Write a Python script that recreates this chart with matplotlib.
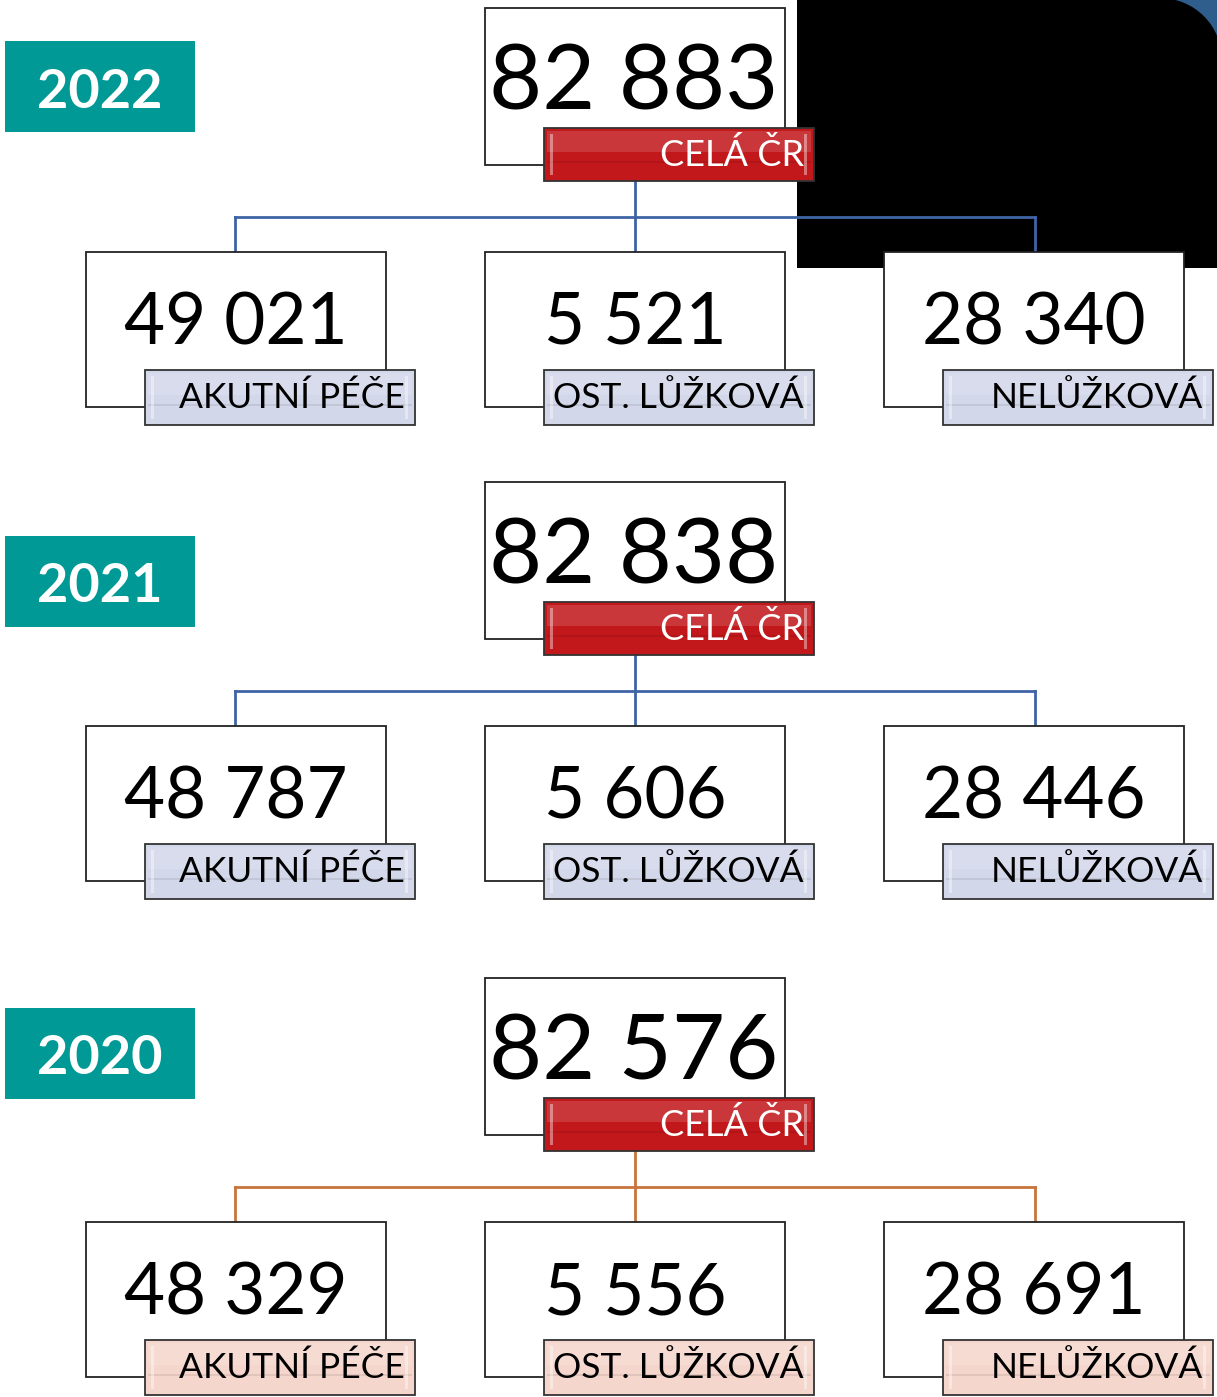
import matplotlib.pyplot as plt
from matplotlib.patches import Rectangle, Circle

# data
years = ['2022', '2021', '2020']
totals = [82883, 82838, 82576]
acute = [49021, 48787, 48329]
other_bed = [5521, 5606, 5556]
non_bed = [28340, 28446, 28691]
sub_labels = ['AKUTNÍ PÉČE', 'OST. LŮŽKOVÁ', 'NELŮŽKOVÁ']
total_label = 'CELÁ ČR'

# layout (pixel space)
sec_top = [8, 482, 978]
year_top = [41, 536, 1008]
line_col = ['#3F64A6', '#3F64A6', '#C8743A']
lab_fill = ['#D3D7EA', '#D3D7EA', '#F5D6CC']
child_x = [86, 485, 884]
box_w = 300

plt.rcParams['font.family'] = ['Lato', 'DejaVu Sans']

fig = plt.figure(figsize=(12.17, 13.97), dpi=100)
ax = fig.add_axes([0, 0, 1, 1])
ax.set_xlim(0, 1217)
ax.set_ylim(1397, 0)
ax.axis('off')


def fmt(v):
    return f'{v:,}'.replace(',', ' ')


def glossy(x, y, w, h, fill, z):
    ax.add_patch(Rectangle((x, y), w, h, facecolor=fill, edgecolor='#333333', lw=1.3, zorder=z))
    ax.add_patch(Rectangle((x + 3, y + 3), w - 6, h * 0.4, facecolor='white', alpha=0.14,
                           edgecolor='none', zorder=z + 0.1))
    ax.add_patch(Rectangle((x + 3, y + 0.62 * h), w - 6, 2, facecolor='black', alpha=0.08,
                           edgecolor='none', zorder=z + 0.1))
    for sx in (x + 6, x + w - 10):
        ax.add_patch(Rectangle((sx, y + 6), 3, h - 12, facecolor='white', alpha=0.4,
                               edgecolor='none', zorder=z + 0.1))


# dark block in the top right corner
ax.add_patch(Rectangle((797, 0), 420, 268, facecolor='black', edgecolor='none', zorder=0))
ax.add_patch(Rectangle((1160, 0), 57, 60, facecolor='#2F5D8C', edgecolor='none', zorder=0.1))
ax.add_patch(Circle((1160, 60), 62, facecolor='black', edgecolor='none', zorder=0.2))

children = [acute, other_bed, non_bed]

for i, yr in enumerate(years):
    t = sec_top[i]

    # year badge
    ax.add_patch(Rectangle((5, year_top[i]), 190, 91, facecolor='#009995', edgecolor='none', zorder=1))
    ax.text(100, year_top[i] + 51, yr, color='white', fontsize=39, fontweight='bold',
            ha='center', va='center', zorder=2)

    # connectors
    hy = t + 209
    ax.plot([635, 635], [t + 173, hy], color=line_col[i], lw=2, zorder=1)
    ax.plot([235, 1035], [hy, hy], color=line_col[i], lw=2, zorder=1)
    for cx in (235, 635, 1035):
        ax.plot([cx, cx], [hy, t + 244], color=line_col[i], lw=2, zorder=1)

    # total box
    ax.add_patch(Rectangle((485, t), box_w, 157, facecolor='white', edgecolor='#222222', lw=1.3, zorder=2))
    ax.text(634, t + 76, fmt(totals[i]), fontsize=66, ha='center', va='center', zorder=3)
    glossy(544, t + 120, 270, 53, '#C2171B', 4)
    ax.text(804, t + 147, total_label, color='white', fontsize=26, ha='right', va='center', zorder=5)

    # child boxes
    for j, cx in enumerate(child_x):
        ax.add_patch(Rectangle((cx, t + 244), box_w, 155, facecolor='white', edgecolor='#222222',
                               lw=1.3, zorder=2))
        ax.text(cx + 150, t + 316, fmt(children[j][i]), fontsize=51, ha='center', va='center', zorder=3)
        glossy(cx + 59, t + 362, 270, 55, lab_fill[i], 4)
        ax.text(cx + 319, t + 390, sub_labels[j], color='black', fontsize=25.5, ha='right',
                va='center', zorder=5)

fig.savefig('out.png', dpi=100)
